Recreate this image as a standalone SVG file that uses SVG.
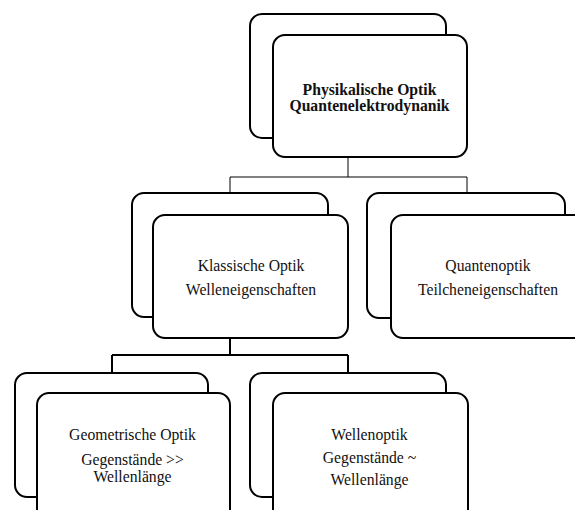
<svg xmlns="http://www.w3.org/2000/svg" width="575" height="510" viewBox="0 0 575 510">
<style>
.box{fill:#fff;stroke:#000;stroke-width:2}
.t{font-family:"Liberation Serif","Times New Roman",serif;font-size:15.7px;fill:#111;text-anchor:middle}
.b{font-weight:bold}
.thin{fill:none;stroke:#000;stroke-width:1}
.thick{fill:none;stroke:#000;stroke-width:2}
</style>
<rect width="575" height="510" fill="#fff"/>
<g id="connectors">
<path class="thin" d="M348 157V177M230 177H467M230 177V193M467 177V193"/>
<path class="thick" d="M230 338V355M112 355H348M112 355V373M348 355V373"/>
</g>
<g id="n-top">
<rect class="box" x="250" y="14" width="196" height="124" rx="12"/>
<rect class="box" x="273" y="35" width="194" height="122" rx="12"/>
<text class="t b" x="369.5" y="95">Physikalische Optik</text>
<text class="t b" x="369.5" y="111">Quantenelektrodynanik</text>
</g>
<g id="n-klassisch">
<rect class="box" x="132" y="193" width="196" height="124" rx="12"/>
<rect class="box" x="153" y="215" width="195" height="123" rx="12"/>
<text class="t" x="251" y="271">Klassische Optik</text>
<text class="t" x="251" y="295">Welleneigenschaften</text>
</g>
<g id="n-quanten">
<rect class="box" x="367" y="193" width="198" height="125" rx="12"/>
<rect class="box" x="391" y="215" width="196" height="123" rx="12"/>
<text class="t" x="488" y="271">Quantenoptik</text>
<text class="t" x="488" y="295">Teilcheneigenschaften</text>
</g>
<g id="n-geo">
<rect class="box" x="15" y="373" width="193" height="124" rx="12"/>
<rect class="box" x="37" y="393" width="193" height="130" rx="12"/>
<text class="t" x="132.5" y="440">Geometrische Optik</text>
<text class="t" x="132.5" y="465">Gegenstände &gt;&gt;</text>
<text class="t" x="132.5" y="482">Wellenlänge</text>
</g>
<g id="n-welle">
<rect class="box" x="250" y="373" width="196" height="124" rx="12"/>
<rect class="box" x="273" y="393" width="195" height="130" rx="12"/>
<text class="t" x="369.5" y="440">Wellenoptik</text>
<text class="t" x="369.5" y="463">Gegenstände ~</text>
<text class="t" x="369.5" y="485">Wellenlänge</text>
</g>
</svg>
